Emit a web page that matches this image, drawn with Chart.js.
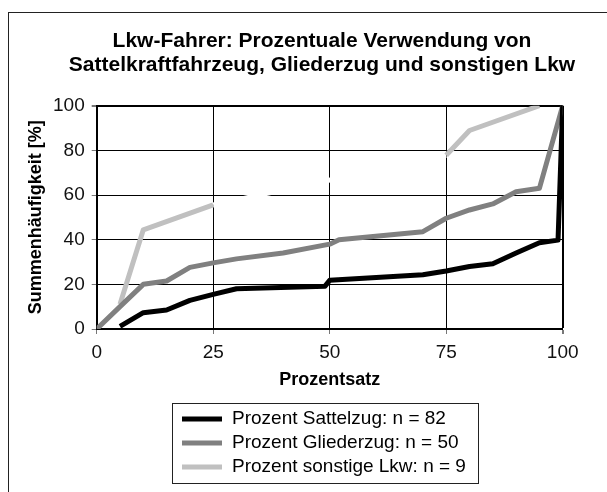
<!DOCTYPE html>
<html><head><meta charset="utf-8">
<script src="https://cdn.jsdelivr.net/npm/chart.js@4.4.1/dist/chart.umd.min.js"></script>
<style>
html,body{margin:0;padding:0;width:607px;height:492px;overflow:hidden;background:#fff;}
#frame{position:absolute;left:8px;top:12px;width:700px;height:600px;border:1px solid #222;box-sizing:border-box;}
#wrap{position:absolute;left:0;top:0;width:634px;height:492px;}
</style></head><body>
<div id="frame"></div>
<div id="wrap"><canvas id="c" width="634" height="492"></canvas></div>
<script>
// ---- data ----
const titleLines = ['Lkw-Fahrer: Prozentuale Verwendung von', 'Sattelkraftfahrzeug, Gliederzug und sonstigen Lkw'];
const xTitle = 'Prozentsatz';
const yTitle = 'Summenhäufigkeit [%]';
const seriesNames = ['Prozent Sattelzug: n = 82', 'Prozent Gliederzug: n = 50', 'Prozent sonstige Lkw: n = 9'];
const xTickValues = [0, 25, 50, 75, 100];
const yTickValues = [0, 20, 40, 60, 80, 100];

const sattelX = [5, 10, 15, 20, 25, 30, 49, 50, 70, 75, 80, 85, 90, 95, 99, 100];
const sattelY = [1.2, 7.3, 8.5, 12.8, 15.5, 18.0, 19.2, 21.8, 24.3, 26.0, 28.0, 29.2, 34.0, 38.6, 39.8, 100];

const gliederX = [0, 5, 10, 15, 20, 25, 30, 40, 50, 52, 70, 75, 80, 85, 90, 95, 100];
const gliederY = [0, 10, 20, 21.5, 27.6, 29.6, 31.4, 34, 38, 40, 43.6, 49.6, 53.3, 56, 61.5, 63, 100];

const sonstigeX = [5, 10, 25, 75, 80, 95];
const sonstigeY = [11.1, 44.4, 55.6, 77.8, 88.9, 100];

// ---- chart ----
const FONT = '"Liberation Sans", Arial, sans-serif';
const pts = (xs, ys) => xs.map((x, i) => ({x: x, y: ys[i]}));

const legendBox = {
  id: 'legendBox',
  afterDraw(chart) {
    const c = chart.ctx;
    c.save();
    c.strokeStyle = '#222'; c.lineWidth = 1;
    c.strokeRect(172.5, 403.5, 306, 80);
    chart.data.datasets.forEach((ds, i) => {
      const y = 419 + i * 24;
      c.strokeStyle = ds.borderColor; c.lineWidth = 5;
      c.beginPath(); c.moveTo(182, y); c.lineTo(222, y); c.stroke();
      c.fillStyle = '#000'; c.font = '19px ' + FONT; c.textBaseline = 'middle'; c.textAlign = 'left';
      c.fillText(ds.label, 232, y);
    });
    c.restore();
  }
};

const edgeWidth = v => (c) => (c.tick && c.tick.value === v) ? 2 : 1;

new Chart(document.getElementById('c'), {
  type: 'line',
  data: {
    datasets: [
      {label: seriesNames[0], data: pts(sattelX, sattelY), borderColor: '#000000', backgroundColor: '#000000', borderWidth: 5},
      {label: seriesNames[1], data: pts(gliederX, gliederY), borderColor: '#808080', backgroundColor: '#808080', borderWidth: 5},
      {label: seriesNames[2], data: pts(sonstigeX, sonstigeY), borderColor: '#c0c0c0', backgroundColor: '#c0c0c0', borderWidth: 5,
       segment: {borderColor: s => (s.p0.parsed.x === 25 && s.p1.parsed.x === 75) ? '#ffffff' : undefined}}
    ]
  },
  options: {
    responsive: false, animation: false, devicePixelRatio: 1,
    layout: {padding: {left: 10, right: 0, top: 0, bottom: 101}},
    elements: {point: {radius: 0, hoverRadius: 0}, line: {tension: 0, borderJoinStyle: 'round'}},
    plugins: {
      legend: {display: false},
      tooltip: {enabled: false},
      title: {display: true, text: titleLines, color: '#000',
        font: {family: FONT, size: 21, weight: 'bold', lineHeight: 1.15},
        padding: {top: 28.9, bottom: 28.5}}
    },
    scales: {
      x: {
        type: 'linear', min: 0, max: 100,
        afterBuildTicks: s => { s.ticks = xTickValues.map(v => ({value: v})); },
        afterFit: s => { s.height = 62; },
        ticks: {font: {family: FONT, size: 19}, color: '#111', padding: 7, maxRotation: 0},
        grid: {color: '#000', lineWidth: edgeWidth(100), tickLength: 5, tickColor: '#777'},
        border: {color: '#000', width: 2},
        title: {display: true, text: xTitle, color: '#000', font: {family: FONT, size: 18, weight: 'bold'}, padding: {top: 0, bottom: 0}}
      },
      y: {
        type: 'linear', min: 0, max: 100,
        afterBuildTicks: s => { s.ticks = yTickValues.map(v => ({value: v})); },
        afterFit: s => { s.width = 86.7; },
        ticks: {font: {family: FONT, size: 19}, color: '#111', padding: 7},
        grid: {color: '#000', lineWidth: edgeWidth(100), tickLength: 5, tickColor: '#777'},
        border: {color: '#000', width: 2},
        title: {display: true, text: yTitle, color: '#000', font: {family: FONT, size: 18, weight: 'bold'}, padding: {top: 15.2, bottom: 0}}
      },
      spacer: {
        axis: 'y', position: 'right', display: true,
        grid: {display: false}, ticks: {display: false}, border: {display: false},
        afterFit: s => { s.width = 71.3; }
      }
    }
  },
  plugins: [legendBox]
});
</script></body></html>
